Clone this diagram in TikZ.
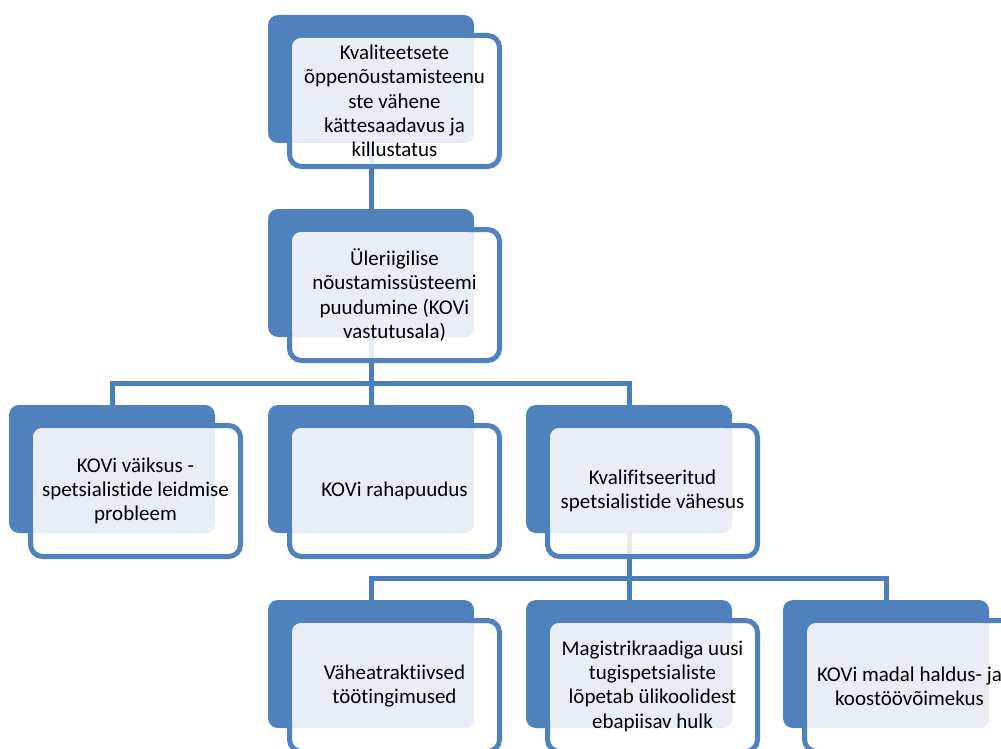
\documentclass[tikz,border=0pt]{standalone}
\usepackage{fontspec}
\setmainfont{Carlito}[Ligatures=NoCommon]
\pgfdeclarelayer{background}
\pgfsetlayers{background,main}
\definecolor{backblue}{HTML}{4F81BD}
\definecolor{edgeblue}{HTML}{4F81BD}
\definecolor{connblue}{HTML}{4A7EBB}
\definecolor{lightfill}{HTML}{E9EEF6}
\tikzset{
  backbox/.style={fill=backblue, draw=none, rounded corners=10pt, minimum width=206pt, minimum height=128pt, inner sep=0pt, outer sep=0pt},
  frontbox/.style={draw=edgeblue, line width=5pt, fill=white, fill opacity=0.85, rounded corners=12pt, minimum width=210pt, minimum height=131pt, inner sep=0pt, outer sep=0pt},
  overlayfill/.style={fill=lightfill, rounded corners=9pt},
  txt/.style={align=center, font=\fontsize{21}{24.3}\selectfont, text=black, inner sep=0pt},
  conn/.style={draw=connblue, line width=5pt}
}
\newcommand\hnode[4]{%
  \node[backbox] (#1b) at (#2+103,#3+64) {};
  \node[frontbox] (#1f) at (#2+126.5,#3+86) {};
  \fill[overlayfill] (#2+24,#3+23) rectangle (#2+206,#3+128);
  \node[txt] (#1) at (#2+126.5,#3+86) {#4};
}
\begin{document}
\begin{tikzpicture}[x=1pt,y=-1pt]
\useasboundingbox (0,0) rectangle (1001,749);
\clip (0,0) rectangle (1001,749);
\hnode{n1}{268}{15}{Kvaliteetsete\\õppenõustamisteenu\\ste vähene\\kättesaadavus ja\\killustatus}
\hnode{n2}{268}{209}{Üleriigilise\\nõustamissüsteemi\\puudumine (KOVi\\vastutusala)}
\hnode{n3a}{9}{405}{KOVi väiksus -\\spetsialistide leidmise\\probleem}
\hnode{n3b}{268}{405}{KOVi rahapuudus}
\hnode{n3c}{526}{405}{Kvalifitseeritud\\spetsialistide vähesus}
\hnode{n4a}{268}{600}{Väheatraktiivsed\\töötingimused}
\hnode{n4b}{526}{600}{Magistrikraadiga uusi\\tugispetsialiste\\lõpetab ülikoolidest\\ebapiisav hulk}
\hnode{n4c}{783}{600}{KOVi madal haldus- ja\\koostöövõimekus}
\coordinate (bar1) at (n2b.center |- 0,383);
\coordinate (bar2) at (n3cb.center |- 0,578);
\begin{pgfonlayer}{background}
\draw[conn] (n1b.center) -- (n2b.north);
\draw[conn] (n2b.center) -- (bar1);
\draw[conn] (n3ab.north) |- (bar1);
\draw[conn] (n3bb.north) -- (bar1);
\draw[conn] (n3cb.north) |- (bar1);
\draw[conn] (n3cb.center) -- (bar2);
\draw[conn] (n4ab.north) |- (bar2);
\draw[conn] (n4bb.north) -- (bar2);
\draw[conn] (n4cb.north) |- (bar2);
\end{pgfonlayer}
\end{tikzpicture}
\end{document}
